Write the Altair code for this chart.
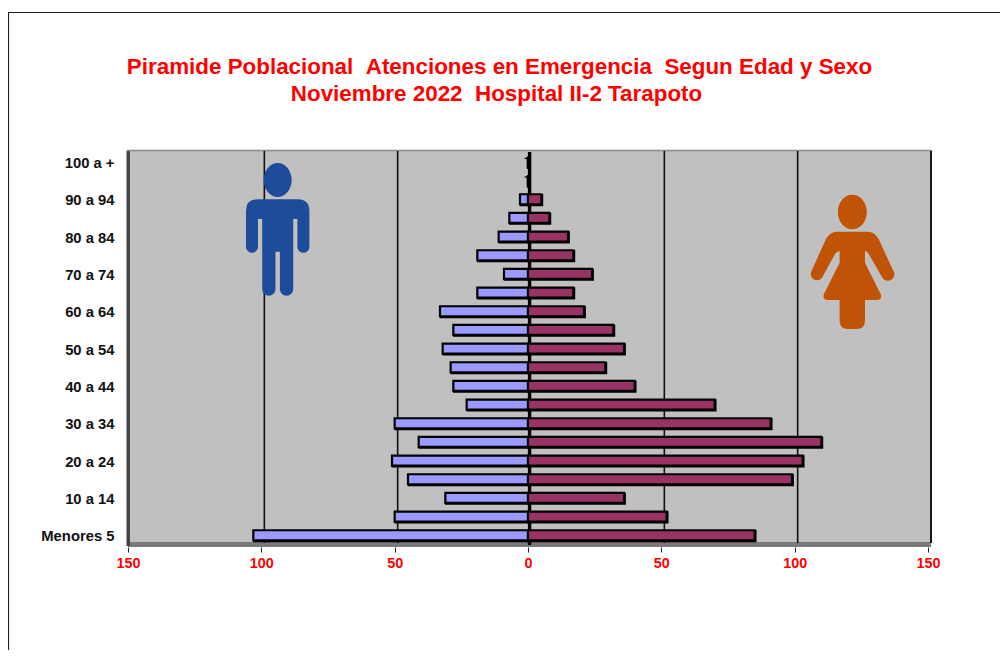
import altair as alt
import pandas as pd

ages = ["100 a +", "95 a 99", "90 a 94", "85 a 89", "80 a 84", "75 a 79", "70 a 74",
        "65 a 69", "60 a 64", "55 a 59", "50 a 54", "45 a 49", "40 a 44", "35 a 39",
        "30 a 34", "25 a 29", "20 a 24", "15 a 19", "10 a 14", "5 a 9", "Menores 5"]
male = [0, 0, 3, 7, 11, 19, 9, 19, 33, 28, 32, 29, 28, 23, 50, 41, 51, 45, 31, 50, 103]
female = [0, 0, 5, 8, 15, 17, 24, 17, 21, 32, 36, 29, 40, 70, 91, 110, 103, 99, 36, 52, 85]
shown = ages[0::2]
grid_vals = [-100, -50, 50, 100, 150]
x_ticks = [-150, -100, -50, 0, 50, 100, 150]
title_lines = ["Piramide Poblacional \u00a0Atenciones en Emergencia \u00a0Segun Edad y Sexo",
               "Noviembre 2022 \u00a0Hospital II-2 Tarapoto"]

FONT = "Liberation Sans"
W, H = 800, 392
PL, PT = 120, 146
PR, PB = 72, 104


def px(v):
    return v - 128


def py(v):
    return v - 154


MAN = ("M-20,-30.7 L20,-30.7 Q31.7,-30.7 31.7,-19 L31.7,16.7 A6,6 0 0 1 19.7,16.7 L19.7,-11 L15.5,-11 "
       "L15.5,59 A6.65,6.65 0 0 1 2.2,59 L2.2,21.7 L-2.2,21.7 L-2.2,59 A6.65,6.65 0 0 1 -15.5,59 "
       "L-15.5,-11 L-19.7,-11 L-19.7,16.7 A6,6 0 0 1 -31.7,16.7 L-31.7,-19 Q-31.7,-30.7 -20,-30.7 Z "
       "M-14,-50 A14,17 0 1 1 14,-50 A14,17 0 1 1 -14,-50 Z")
WOMAN = ("M-47,-95 L48,-95 Q65,-95 78,-75 L122,20 A18,18 0 0 1 91,45 L48,-30 Q43,-37 38,-37 L38,-2 "
         "L85,92 Q91,110 73,110 L38,110 L38,172 Q38,197 13,197 L-13,197 Q-38,197 -38,172 L-38,110 "
         "L-73,110 Q-91,110 -85,92 L-38,-2 L-38,-37 Q-47,-35 -52,-28 L-90,42 A18,18 0 0 1 -122,22 "
         "L-78,-75 Q-65,-95 -47,-95 Z M-43.5,-154 A43.5,52 0 1 1 43.5,-154 A43.5,52 0 1 1 -43.5,-154 Z")

rows = pd.DataFrame({"edad": ages * 2,
                     "valor": [-v for v in male] + female,
                     "sexo": ["Hombres"] * len(ages) + ["Mujeres"] * len(ages)})
one = pd.DataFrame({"a": [0]})

x_scale = alt.Scale(domain=[-150, 150], nice=False, zero=False)
y_scale = alt.Scale(domain=ages, paddingInner=0.465, paddingOuter=0.2325, round=False)


def vrect(x1, x2, y1, y2, color):
    return alt.Chart(one).mark_rect(color=color).encode(
        x=alt.value(px(x1)), x2=alt.value(px(x2)), y=alt.value(py(y1)), y2=alt.value(py(y2)))


def vline(x1, x2, y1, y2, color, w=1.5):
    return alt.Chart(one).mark_rule(color=color, strokeWidth=w, clip=False).encode(
        x=alt.value(px(x1)), x2=alt.value(px(x2)), y=alt.value(py(y1)), y2=alt.value(py(y2)))


axes = alt.Chart(rows).mark_bar(opacity=0).encode(
    x=alt.X("valor:Q", scale=x_scale, stack=None, title=None,
            axis=alt.Axis(values=x_ticks, labelExpr="abs(datum.value)", grid=False, domain=False,
                          tickColor="#222222", tickSize=5, tickWidth=1, labelColor="#ff0000",
                          labelFont=FONT, labelFontWeight="bold", labelFontSize=14.4, labelPadding=4,
                          labelFlush=False, labelOverlap=False, offset=1)),
    y=alt.Y("edad:N", scale=y_scale, sort=ages, title=None,
            axis=alt.Axis(values=shown, ticks=False, domain=False, grid=False, labelColor="#111111",
                          labelFont=FONT, labelFontWeight="bold", labelFontSize=14.8, labelPadding=14,
                          labelAlign="right", labelBaseline="middle", labelOffset=0.5)),
)

wall = vrect(130, 931, 151, 543, "#c0c0c0")
floor = vrect(128, 931, 542, 547, "#7a7a7a")
left = vrect(126.5, 130, 151, 546, "#444444")
top = vline(127, 932, 150.5, 150.5, "#8a8a8a", 1.5)
right = vline(931, 931, 151, 543, "#333333", 2)

grid = alt.Chart(pd.DataFrame({"g": grid_vals})).mark_rule(
    color="#111111", strokeWidth=1.6, xOffset=3).encode(
    x=alt.X("g:Q", scale=x_scale), y=alt.value(py(151)), y2=alt.value(py(543)))

center = alt.Chart(pd.DataFrame({"g": [0]})).mark_rule(
    color="#000000", strokeWidth=3.4, xOffset=1.6).encode(
    x=alt.X("g:Q", scale=x_scale), y=alt.value(py(152)), y2=alt.value(py(545)))

tick_data = pd.DataFrame({"edad": ages, "a": -1.3, "b": 0})
cticks = alt.Chart(tick_data).mark_rule(color="#000000", strokeWidth=1.2).encode(
    y=alt.Y("edad:N", scale=y_scale, sort=ages, bandPosition=0),
    x=alt.X("a:Q", scale=x_scale), x2="b:Q")

shadow = alt.Chart(rows).mark_bar(color="#000000", stroke="#000000", strokeWidth=2.2, xOffset=0.8, yOffset=-0.6).encode(
    x=alt.X("valor:Q", scale=x_scale, stack=None),
    y=alt.Y("edad:N", scale=y_scale, sort=ages))
bars = alt.Chart(rows).mark_bar(stroke="#000000", strokeWidth=2.2, yOffset=-1.4).encode(
    x=alt.X("valor:Q", scale=x_scale, stack=None),
    y=alt.Y("edad:N", scale=y_scale, sort=ages),
    color=alt.Color("sexo:N", legend=None,
                    scale=alt.Scale(domain=["Hombres", "Mujeres"], range=["#9999ff", "#993366"])))

man = alt.Chart(one).mark_point(shape=MAN, size=4, filled=True, opacity=1, fill="#1f4c9a", strokeWidth=0).encode(
    x=alt.value(px(277.7)), y=alt.value(py(230)))
woman = alt.Chart(one).mark_point(shape=WOMAN, size=4 / 9, filled=True, opacity=1, fill="#c05306", strokeWidth=0).encode(
    x=alt.value(px(852.3)), y=alt.value(py(263.3)))

t1 = alt.Chart(pd.DataFrame({"t": [title_lines[0]]})).mark_text(
    font=FONT, fontWeight="bold", fontSize=22.4, color="#ff0000", align="center", baseline="middle").encode(
    text="t:N", x=alt.value(px(499.5)), y=alt.value(py(67)))
t2 = alt.Chart(pd.DataFrame({"t": [title_lines[1]]})).mark_text(
    font=FONT, fontWeight="bold", fontSize=22.4, color="#ff0000", align="center", baseline="middle").encode(
    text="t:N", x=alt.value(px(496.5)), y=alt.value(py(94)))

frame_l = vline(8.5, 8.5, 12, 658, "#222222", 1.2)
frame_t = vline(8, 1008, 12.5, 12.5, "#222222", 1.2)

chart = alt.layer(wall, floor, left, top, right, grid, axes, center, cticks, shadow, bars, man, woman,
                  t1, t2, frame_l, frame_t).properties(
    width=W, height=H,
    autosize=alt.AutoSizeParams(type="none"),
    padding={"left": PL, "top": PT, "right": PR, "bottom": PB},
    background="white",
).configure_view(stroke=None)

chart.save("out.html", embed_options={"renderer": "svg", "actions": False})
